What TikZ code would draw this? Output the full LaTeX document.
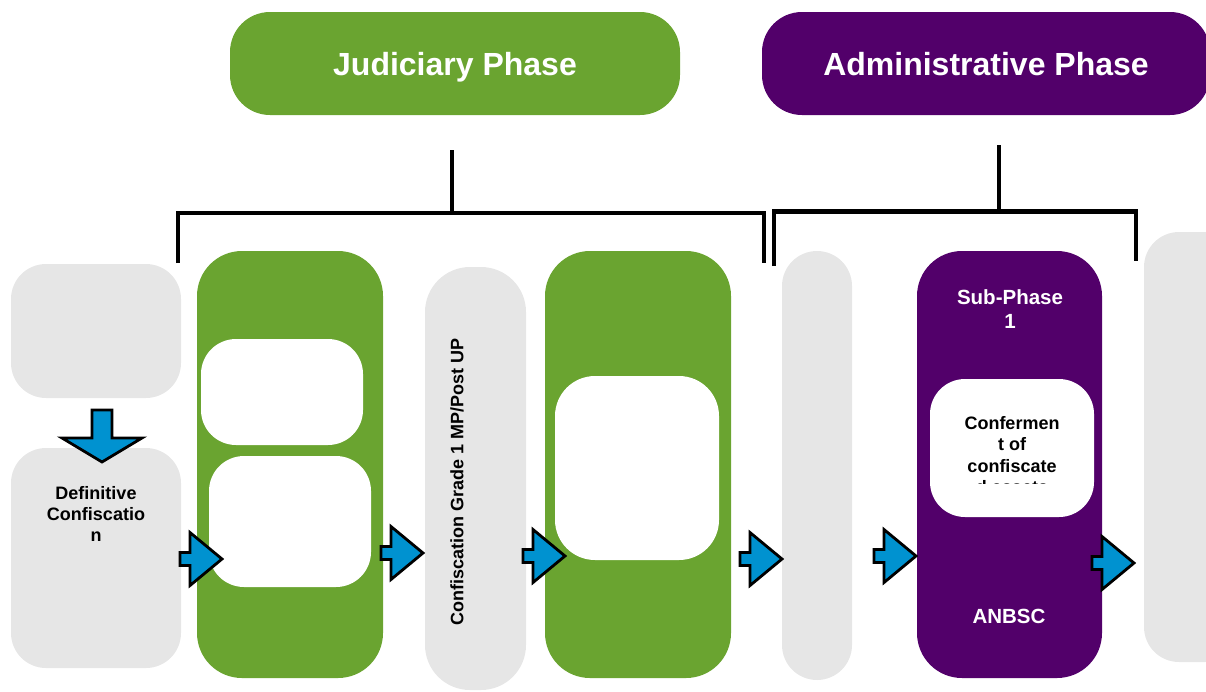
\documentclass[tikz,border=0pt]{standalone}
\usepackage{fontspec}
\setmainfont{Liberation Sans}
\definecolor{phasegreen}{RGB}{106,164,48}
\definecolor{phasepurple}{RGB}{82,0,106}
\definecolor{boxgray}{RGB}{230,230,230}
\definecolor{arrowblue}{RGB}{0,146,208}
\tikzset{
  box/.style={rectangle, inner sep=0pt, outer sep=0pt, minimum width=#1},
  graybox/.style={box=#1, fill=boxgray},
  greenbox/.style={box=#1, fill=phasegreen},
  purplebox/.style={box=#1, fill=phasepurple},
  whitebox/.style={box=#1, fill=white},
  title/.style={text=white, anchor=base, font=\bfseries\fontsize{32}{38}\selectfont},
  label/.style={text=black, align=center, font=\bfseries\fontsize{18}{21.3}\selectfont},
  sublabel/.style={text=white, align=center, font=\bfseries\fontsize{20.5}{24}\selectfont},
  bracket/.style={line width=4.5pt, black},
  blockarrow/.style={fill=arrowblue, draw=black, line width=2.8pt, line join=miter},
  pics/rightarrow/.style={code={
    \draw[blockarrow] (0,0) -- (-32,-26.5) -- (-32,-6.5) -- (-42,-6.5) -- (-42,6.5)
      -- (-32,6.5) -- (-32,26.5) -- cycle;}},
  pics/downarrow/.style={code={
    \draw[blockarrow] (0,0) -- (-40,-24) -- (-10,-24) -- (-10,-52) -- (10,-52)
      -- (10,-24) -- (40,-24) -- cycle;}},
}
\begin{document}
\begin{tikzpicture}[x=1pt, y=-1pt]
\useasboundingbox (0,0) rectangle (1206,691);

% phase headers
\node[greenbox=450pt, minimum height=103pt, rounded corners=40pt] (jud) at (455,63.5) {};
\node[title] at (455,75) {Judiciary Phase};
\node[purplebox=448pt, minimum height=103pt, rounded corners=40pt] (adm) at (986,63.5) {};
\node[title] at (986,75) {Administrative Phase};

% brackets grouping the steps of each phase
\coordinate (jl) at (178,263);
\coordinate (jr) at (764,263);
\coordinate (js) at (452,150);
\draw[bracket] (jl) -- (178,213) -- (764,213) -- (jr);
\draw[bracket] (js) -- (452,213);
\coordinate (al) at (774,266);
\coordinate (ar) at (1136,261);
\coordinate (as) at (999,145);
\draw[bracket] (al) -- (774,211.5) -- (1136,211.5) -- (ar);
\draw[bracket] (as) -- (999,211.5);

% first column
\node[graybox=170pt, minimum height=134pt, rounded corners=35pt] (start) at (96,331) {};
\node[graybox=170pt, minimum height=220pt, rounded corners=35pt] (def) at (96,558) {};
\node[label] at (96,514) {Definitive\\Confiscatio\\n};

% judiciary steps
\node[greenbox=186pt, minimum height=427pt, rounded corners=45pt] (g1) at (290,464.5) {};
\node[whitebox=162pt, minimum height=106pt, rounded corners=35pt] (g1a) at (282,392) {};
\node[whitebox=162pt, minimum height=131pt, rounded corners=35pt] (g1b) at (290,521.5) {};

\node[graybox=101pt, minimum height=423pt, rounded corners=45pt] (grade) at (475.5,478.5) {};
\node[label, rotate=90] at (457,482) {Confiscation Grade 1 MP/Post UP};

\node[greenbox=186pt, minimum height=427pt, rounded corners=45pt] (g2) at (638,464.5) {};
\node[whitebox=164pt, minimum height=184pt, rounded corners=40pt] (g2a) at (637,468) {};

% administrative steps
\node[graybox=70pt, minimum height=429pt, rounded corners=35pt] (a0) at (817,465.5) {};

\node[purplebox=185pt, minimum height=427pt, rounded corners=45pt] (sp1) at (1009.5,464.5) {};
\node[sublabel] at (1010,309) {Sub-Phase\\1};
\node[whitebox=164pt, minimum height=138pt, rounded corners=35pt] (conf) at (1012,448) {};
\begin{scope}
  \clip (930,379) rectangle (1094,483);
  \node[label] at (1012,455) {Confermen\\t of\\confiscate\\d assets};
\end{scope}
\node[sublabel] at (1009,616) {ANBSC};

\node[graybox=96pt, minimum height=430pt, rounded corners=35pt] (last) at (1192,447) {};

% block arrows between the steps
\pic at (102,462) {downarrow};
\pic at (222,559) {rightarrow};
\pic at (423,553) {rightarrow};
\pic at (565,556) {rightarrow};
\pic at (782,559) {rightarrow};
\pic at (916,556) {rightarrow};
\pic at (1134,563) {rightarrow};
\end{tikzpicture}
\end{document}
